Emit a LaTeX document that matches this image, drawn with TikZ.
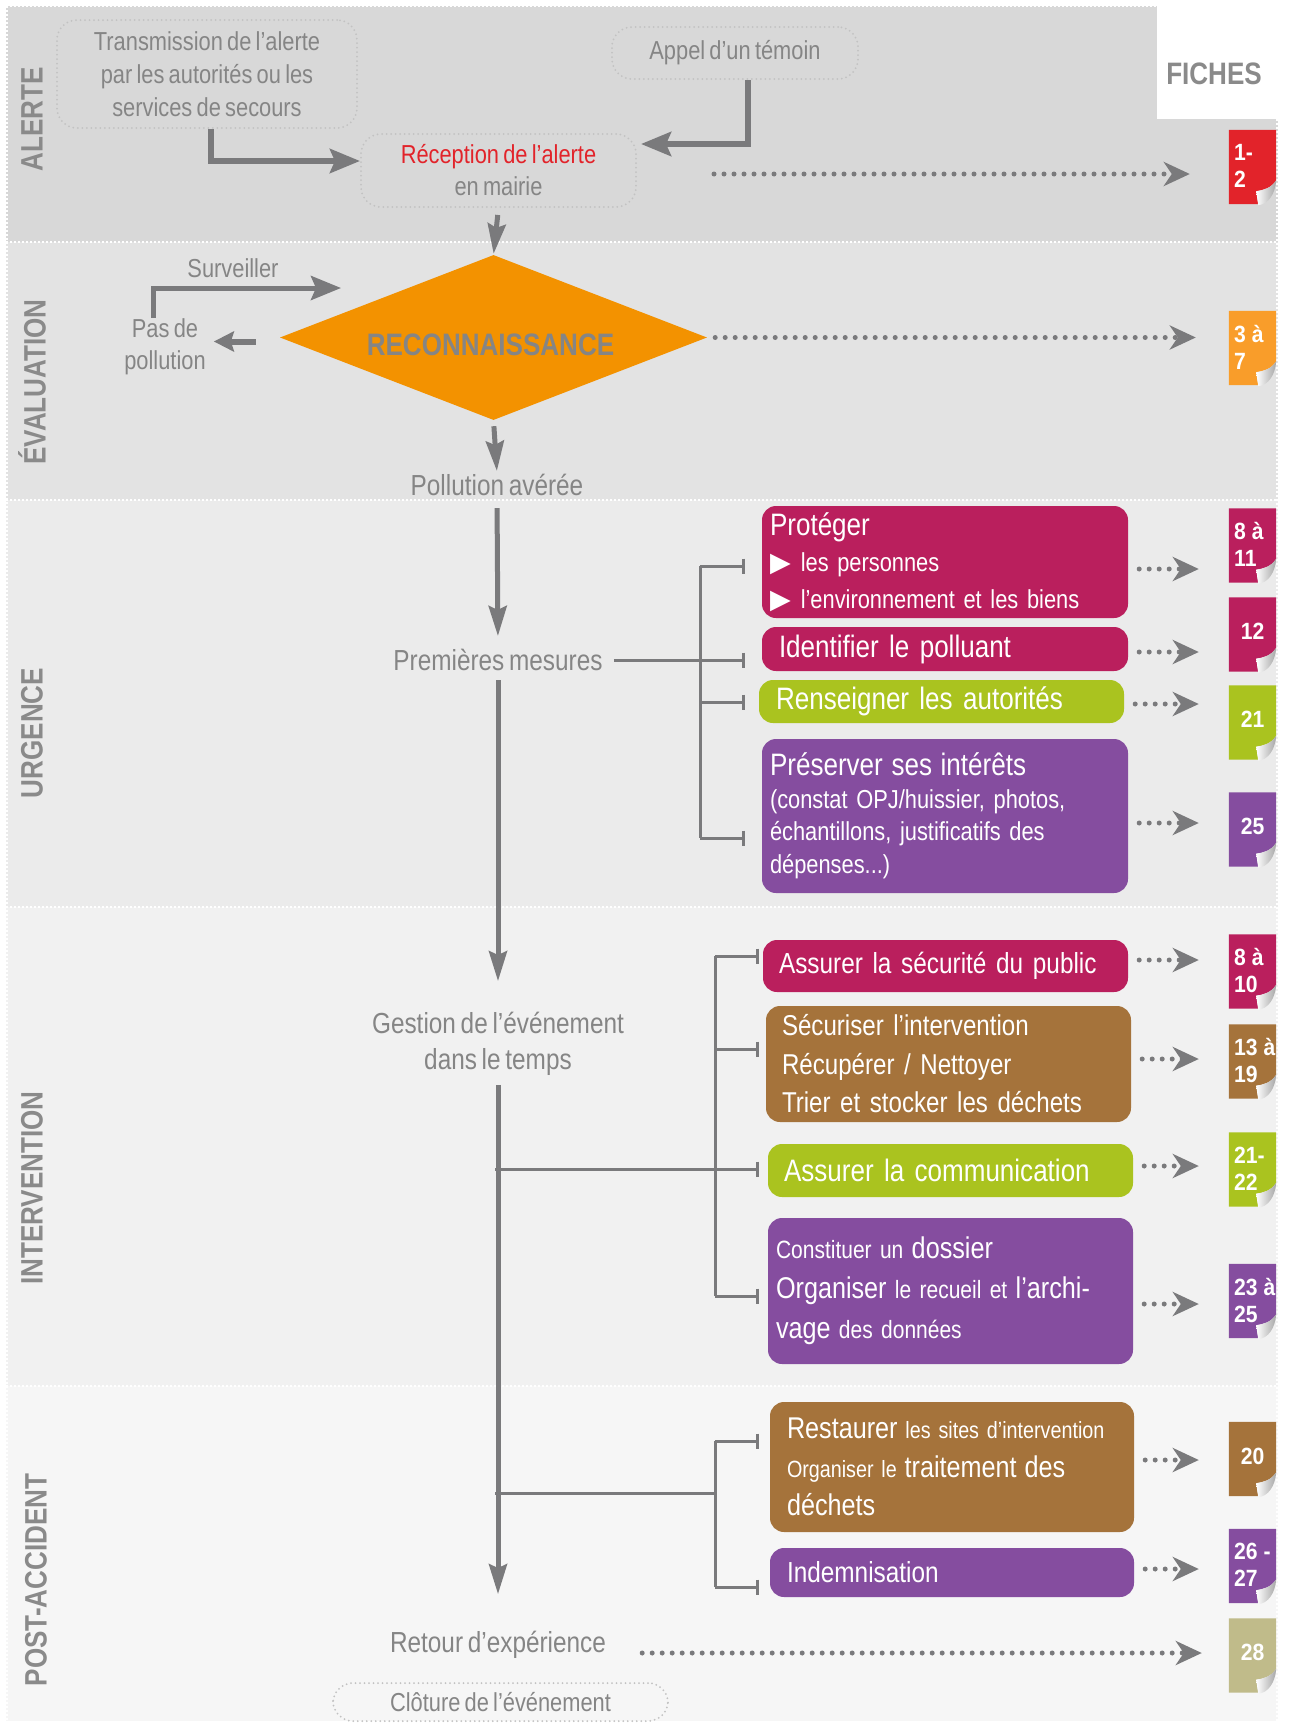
\documentclass[tikz,border=0pt]{standalone}
\usepackage{fontspec}
\setmainfont{Liberation Sans}[FakeStretch=0.84, WordSpace=0.7]
\newfontfamily\tabfont{Liberation Sans}[FakeStretch=0.9]
\newfontfamily\symfont{DejaVu Sans}
\usetikzlibrary{arrows.meta,shapes.geometric,calc}

\definecolor{txtgrey}{HTML}{858585}
\definecolor{labgrey}{HTML}{8A8A8A}
\definecolor{arrgrey}{HTML}{7A7A7C}
\definecolor{dotgrey}{HTML}{C2C2C2}
\definecolor{bandA}{HTML}{D8D8D8}
\definecolor{bandB}{HTML}{E3E3E3}
\definecolor{bandC}{HTML}{EBEBEB}
\definecolor{bandD}{HTML}{F1F1F1}
\definecolor{bandE}{HTML}{F6F6F6}
\definecolor{cmag}{HTML}{BA1F5D}
\definecolor{cgreen}{HTML}{AAC31F}
\definecolor{cpurple}{HTML}{854D9F}
\definecolor{cbrown}{HTML}{A5733B}
\definecolor{corange}{HTML}{F39200}
\definecolor{ctaborange}{HTML}{F99D2A}
\definecolor{cred}{HTML}{E2232A}
\definecolor{ckhaki}{HTML}{C0BB8A}

\tikzset{
  midtext/.style={text=txtgrey, font=\fontsize{29}{36}\selectfont, align=center, inner sep=1pt},
  smalltext/.style={text=txtgrey, font=\fontsize{26}{32}\selectfont, align=center, inner sep=1pt},
  dotbox/.style={draw=dotgrey, line width=2pt, dash pattern=on 0pt off 4.5pt, line cap=round,
     rounded corners=20pt, text=txtgrey, font=\fontsize{26}{33}\selectfont, align=center, inner sep=0pt},
  seclabel/.style={rotate=90, text=labgrey, font=\bfseries\fontsize{31}{31}\selectfont, inner sep=0pt},
  actbox/.style={rounded corners=14pt, text=white, align=left, inner ysep=0pt},
  flow/.style={draw=arrgrey, line width=6pt, -{Stealth[length=30pt,width=24pt,inset=5pt]}},
  trunk/.style={draw=arrgrey, line width=5pt, -{Stealth[length=30pt,width=18pt,inset=4pt]}},
  brk/.style={draw=arrgrey, line width=3pt},
  brkend/.style={brk, -{Bar[width=15pt]}},
  dotarrow/.style={draw=arrgrey, line width=5pt, line cap=round, dash pattern=on 0pt off 10pt,
     -{Stealth[length=26pt,width=24pt,inset=8pt]}},
  tabtext/.style={text=white, font=\tabfont\bfseries\fontsize{23.5}{27}\selectfont, inner sep=0pt},
  tabtwo/.style={align=left, anchor=west, xshift=-18.5pt, yshift=1pt},
  tabone/.style={align=center, yshift=3pt},
  sepline/.style={draw=white, line width=1.3pt, dash pattern=on 2pt off 2pt},
}

\newcommand\fichetab[5]{%
  \node[minimum width=47pt, minimum height=74pt, inner sep=0pt] (#1) at (1252.5,#2) {};
  \fill[#3] (#1.north west) -- (#1.north east) -- ($(#1.south east)+(0,-24)$)
     .. controls ($(#1.south east)+(-5,-16)$) and ($(#1.south east)+(-13,-14)$) .. ($(#1.south east)+(-20,-13)$)
     -- ($(#1.south east)+(-18,0)$) -- (#1.south west) -- cycle;
  \shade[left color=white, right color=black!35] ($(#1.south east)+(0,-24)$)
     .. controls ($(#1.south east)+(-5,-16)$) and ($(#1.south east)+(-13,-14)$) .. ($(#1.south east)+(-20,-13)$)
     -- ($(#1.south east)+(-18,1)$)
     .. controls ($(#1.south east)+(-8,0)$) and ($(#1.south east)+(-1,-10)$) .. ($(#1.south east)+(0,-24)$) -- cycle;
  \node[tabtext, #4] (#1x) at (#1.center) {#5};
}
\newcommand\tri{{\symfont\fontsize{27}{27}\selectfont ▶}\hspace{10pt}}
\newcommand\bigw[1]{{\fontsize{30}{30}\selectfont #1}}

\begin{document}
\begin{tikzpicture}[x=1pt, y=-1pt]
\useasboundingbox (0,0) rectangle (1289,1724);
\fill[white] (0,0) rectangle (1289,1724);

% bands
\fill[bandA] (6,6) rectangle (1278,242);
\fill[bandB] (6,242) rectangle (1278,500);
\fill[bandC] (6,500) rectangle (1278,907);
\fill[bandD] (6,907) rectangle (1278,1386);
\fill[bandE] (6,1386) rectangle (1278,1721);
\fill[white] (1157,0) rectangle (1289,119);
\draw[sepline] (6,242) -- (1278,242);
\draw[sepline] (6,500) -- (1278,500);
\draw[sepline] (6,907) -- (1278,907);
\draw[sepline] (6,1386) -- (1278,1386);
\draw[sepline] (6,6) -- (1157,6);
\draw[sepline] (7,6) -- (7,1721);
\draw[sepline] (1277,119) -- (1277,1721);

% section labels
\node[seclabel] (lalerte) at (32,119) {ALERTE};
\node[seclabel] (leval) at (32,382) {ÉVALUATION};
\node[seclabel] (lurg) at (32,733) {URGENCE};
\node[seclabel] (linter) at (32,1188) {INTERVENTION};
\node[seclabel] (lpost) at (36,1580) {POST-ACCIDENT};
\node[text=labgrey, font=\bfseries\fontsize{31}{31}\selectfont, inner sep=0pt] (fiches) at (1214,74) {FICHES};

% ALERTE
\node[dotbox, minimum width=300pt, minimum height=108pt] (trans) at (207,74)
  {Transmission de l’alerte\\par les autorités ou les\\services de secours};
\node[dotbox, minimum width=246pt, minimum height=52pt] (appel) at (735,53) {Appel d’un témoin};
\node[dotbox, minimum width=275pt, minimum height=73pt, font=\fontsize{26}{32}\selectfont] (recep) at (498.5,170.5)
  {\textcolor{cred}{Réception de l’alerte}\\en mairie};

% EVALUATION
\node[diamond, fill=corange, aspect=2.59, minimum width=427pt, minimum height=165pt, inner sep=0pt] (reco) at (493.5,337.5) {};
\node[text=txtgrey, font=\bfseries\fontsize{31}{31}\selectfont, inner sep=0pt] (recotxt) at ($(reco.center)+(-3,7)$) {RECONNAISSANCE};
\node[smalltext] (surv) at (233,268) {Surveiller};
\node[smalltext] (pasde) at (165,347) {Pas de\\pollution};
\node[midtext] (pollav) at (497,485) {Pollution avérée};
\coordinate (survend) at (341,288);

% trunk texts
\node[midtext] (prem) at (498,660) {Premières mesures};
\node[midtext] (gest) at (498,1044) {Gestion de l’événement\\dans le temps};
\node[midtext] (retour) at (498,1645) {Retour d’expérience};
\node[dotbox, minimum width=335pt, minimum height=38pt] (clot) at (500.5,1702) {Clôture de l’événement};

% URGENCE boxes
\node[actbox, fill=cmag, minimum width=366pt, minimum height=112pt, text width=350pt, inner xsep=8pt,
  font=\fontsize{26}{36.5}\selectfont] (p1) at (945,562)
  {{\fontsize{31}{31}\selectfont Protéger}\\\tri les personnes\\\tri l’environnement et les biens};
\node[actbox, fill=cmag, minimum width=366pt, minimum height=44pt, text width=332pt, inner xsep=17pt,
  font=\fontsize{31}{36}\selectfont] (p2) at (945,649) {Identifier le polluant};
\node[actbox, fill=cgreen, minimum width=365pt, minimum height=43pt, text width=331pt, inner xsep=17pt,
  font=\fontsize{31}{36}\selectfont] (p3) at (941.5,701.5) {Renseigner les autorités};
\node[actbox, fill=cpurple, minimum width=366pt, minimum height=154pt, text width=350pt, inner xsep=8pt,
  font=\fontsize{26}{32.5}\selectfont] (p4) at (945,816)
  {{\fontsize{31}{31}\selectfont Préserver ses intérêts}\\(constat OPJ/huissier, photos,\\échantillons, justificatifs des\\dépenses...)};

% INTERVENTION boxes
\node[actbox, fill=cmag, minimum width=365pt, minimum height=52pt, text width=333pt, inner xsep=16pt,
  font=\fontsize{29}{36}\selectfont] (i1) at (945.5,966) {Assurer la sécurité du public};
\node[actbox, fill=cbrown, minimum width=365pt, minimum height=116pt, text width=333pt, inner xsep=16pt,
  font=\fontsize{28.7}{38.5}\selectfont] (i2) at (948.5,1064)
  {Sécuriser l’intervention\\Récupérer / Nettoyer\\Trier et stocker les déchets};
\node[actbox, fill=cgreen, minimum width=365pt, minimum height=53pt, text width=333pt, inner xsep=16pt,
  font=\fontsize{31}{36}\selectfont] (i3) at (950.5,1170.5) {Assurer la communication};
\node[actbox, fill=cpurple, minimum width=365pt, minimum height=146pt, text width=349pt, inner xsep=8pt,
  font=\fontsize{25}{40}\selectfont] (i4) at (950.5,1291)
  {Constituer un \bigw{dossier}\\\bigw{Organiser} le recueil et \bigw{l’archi-}\\\bigw{vage} des données};

% POST-ACCIDENT boxes
\node[actbox, fill=cbrown, minimum width=364pt, minimum height=130pt, text width=330pt, inner xsep=17pt,
  font=\fontsize{23.5}{38.5}\selectfont] (a1) at (952,1467)
  {\bigw{Restaurer} les sites d’intervention\\Organiser le \bigw{traitement des}\\\bigw{déchets}};
\node[actbox, fill=cpurple, minimum width=364pt, minimum height=49pt, text width=330pt, inner xsep=17pt,
  font=\fontsize{29}{36}\selectfont] (a2) at (952,1572.5) {Indemnisation};

% fiches tabs
\fichetab{t1}{167}{cred}{tabtwo}{1-\\2}
\fichetab{t2}{348}{ctaborange}{tabtwo}{3 à\\7}
\fichetab{t3}{545.5}{cmag}{tabtwo}{8 à\\11}
\fichetab{t4}{634.5}{cmag}{tabone}{12}
\fichetab{t5}{722.5}{cgreen}{tabone}{21}
\fichetab{t6}{829.5}{cpurple}{tabone}{25}
\fichetab{t7}{971.5}{cmag}{tabtwo}{8 à\\10}
\fichetab{t8}{1061.5}{cbrown}{tabtwo}{13 à\\19}
\fichetab{t9}{1169.5}{cgreen}{tabtwo}{21-\\22}
\fichetab{t10}{1301}{cpurple}{tabtwo}{23 à\\25}
\fichetab{t11}{1459}{cbrown}{tabone}{20}
\fichetab{t12}{1566}{cpurple}{tabtwo}{26 -\\27}
\fichetab{t13}{1655.5}{ckhaki}{tabone}{28}

% ALERTE arrows
\draw[flow] ($(trans.south)+(4,0)$) |- ($(recep.west)+(0,-9.5)$);
\draw[flow] ($(appel.south)+(13,0)$) |- ($(recep.east)+(4,-26.5)$);
\draw[trunk, shorten <=7pt, shorten >=1pt] (recep.south) -- (reco.north);
\draw[dotarrow, shorten <=77pt, shorten >=39pt] ($(recep.east)+(0,3.5)$) -- ($(recep.east -| t1.west)+(0,3.5)$);

% EVALUATION arrows
\draw[flow, line width=5pt] ($(pasde.north)+(-12,0)$) |- (survend);
\draw[flow, -{Stealth[length=20pt,width=20pt,inset=3pt]}, shorten <=24pt, shorten >=7pt]
  ($(reco.west)+(0,4)$) -- ($(reco.west -| pasde.east)+(0,4)$);
\draw[trunk, shorten <=6pt, shorten >=2pt] (reco.south) -- (pollav.north);
\draw[dotarrow, shorten <=8pt, shorten >=33pt] (reco.east) -- (reco.east -| t2.west);

% trunk
\draw[trunk, shorten <=11pt, shorten >=12pt] (pollav.south) -- (prem.north);
\draw[trunk, shorten <=8pt, shorten >=30pt] (prem.south) -- (gest.north);
\draw[trunk, shorten <=8pt, shorten >=36pt] (gest.south) -- (retour.north);

% URGENCE bracket
\coordinate (ub1) at (700,566);
\coordinate (ub3) at (700,702);
\coordinate (ub4) at (700,838);
\draw[brk] (ub1) -- (ub4);
\draw[brkend] (ub1) -- ($(ub1 -| p1.west)+(-17,0)$);
\draw[brkend, shorten <=10pt] (prem.east) -- ($(prem.east -| p2.west)+(-17,0)$);
\draw[brkend] (ub3) -- ($(ub3 -| p3.west)+(-14,0)$);
\draw[brkend] (ub4) -- ($(ub4 -| p4.west)+(-17,0)$);

% INTERVENTION bracket
\coordinate (ib1) at (715,956);
\coordinate (ib2) at (715,1049);
\coordinate (ib4) at (715,1296);
\coordinate (ij) at (495,1169);
\draw[brk] (ib1) -- (ib4);
\draw[brkend] (ib1) -- ($(ib1 -| i1.west)+(-4,0)$);
\draw[brkend] (ib2) -- ($(ib2 -| i2.west)+(-7,0)$);
\draw[brkend] (ij) -- ($(ij -| i3.west)+(-9,0)$);
\draw[brkend] (ib4) -- ($(ib4 -| i4.west)+(-9,0)$);

% POST bracket
\coordinate (pb1) at (715,1441);
\coordinate (pb2) at (715,1587);
\coordinate (pj) at (495,1493);
\draw[brk] (pb1) -- (pb2);
\draw[brk] (pj) -- (pj -| pb1);
\draw[brkend] (pb1) -- ($(pb1 -| a1.west)+(-11,0)$);
\draw[brkend] (pb2) -- ($(pb2 -| a2.west)+(-11,0)$);

% dotted arrows to fiches
\draw[dotarrow, shorten <=11pt, shorten >=30pt] ($(p1.east)+(0,7)$) -- ($(p1.east -| t3.west)+(0,7)$);
\draw[dotarrow, shorten <=11pt, shorten >=30pt] ($(p2.east)+(0,3)$) -- ($(p2.east -| t4.west)+(0,3)$);
\draw[dotarrow, shorten <=11pt, shorten >=30pt] ($(p3.east)+(0,2.5)$) -- ($(p3.east -| t5.west)+(0,2.5)$);
\draw[dotarrow, shorten <=11pt, shorten >=30pt] ($(p4.east)+(0,7)$) -- ($(p4.east -| t6.west)+(0,7)$);
\draw[dotarrow, shorten <=11pt, shorten >=30pt] ($(i1.east)+(0,-6)$) -- ($(i1.east -| t7.west)+(0,-6)$);
\draw[dotarrow, shorten <=11pt, shorten >=30pt] ($(i2.east)+(0,-5)$) -- ($(i2.east -| t8.west)+(0,-5)$);
\draw[dotarrow, shorten <=11pt, shorten >=30pt] ($(i3.east)+(0,-4.5)$) -- ($(i3.east -| t9.west)+(0,-4.5)$);
\draw[dotarrow, shorten <=11pt, shorten >=30pt] ($(i4.east)+(0,13)$) -- ($(i4.east -| t10.west)+(0,13)$);
\draw[dotarrow, shorten <=11pt, shorten >=30pt] ($(a1.east)+(0,-7)$) -- ($(a1.east -| t11.west)+(0,-7)$);
\draw[dotarrow, shorten <=11pt, shorten >=30pt] ($(a2.east)+(0,-3.5)$) -- ($(a2.east -| t12.west)+(0,-3.5)$);
\draw[dotarrow, shorten <=35pt, shorten >=27pt] ($(retour.east)+(0,8)$) -- ($(retour.east -| t13.west)+(0,8)$);

\end{tikzpicture}
\end{document}
